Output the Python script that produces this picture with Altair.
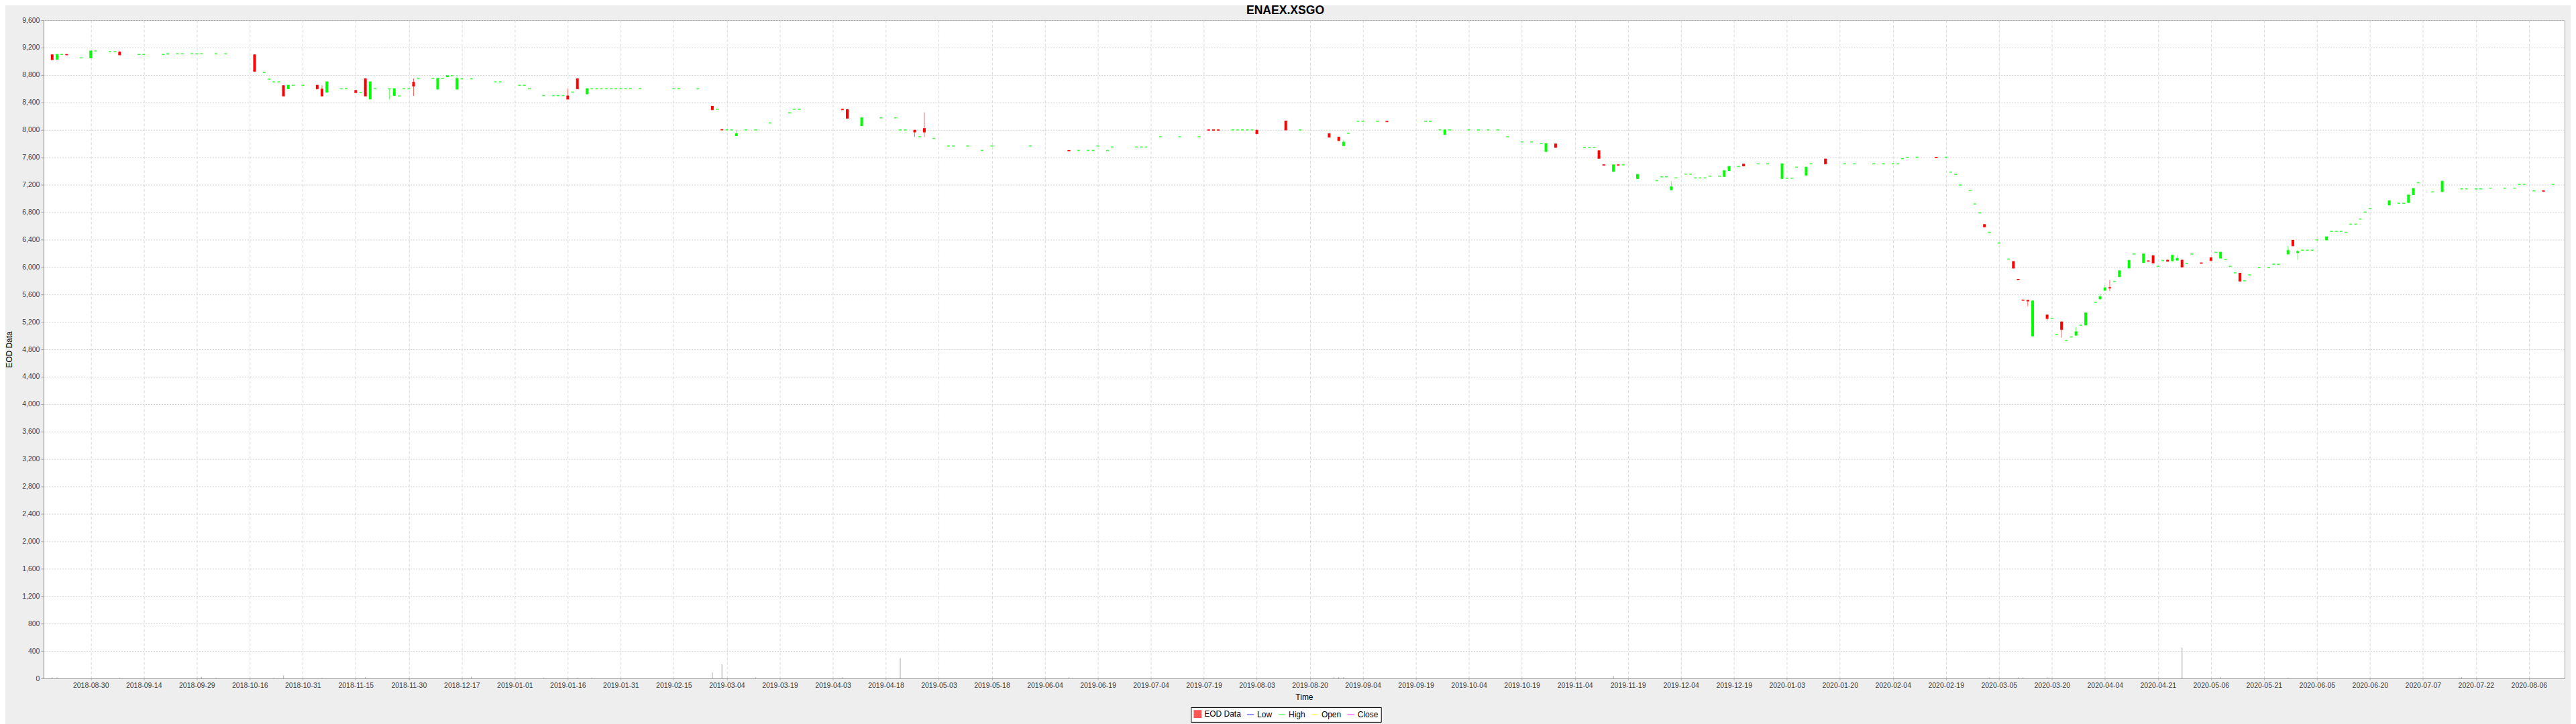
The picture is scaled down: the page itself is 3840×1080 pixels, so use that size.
import json
import numpy as np
import pandas as pd
import altair as alt

TITLE = "ENAEX.XSGO"
START = "2018-08-30"          # first labelled tick
TICK_STEP = 11                # business days between labelled ticks

tick_labels = [
    "2018-08-30", "2018-09-14", "2018-09-29", "2018-10-16", "2018-10-31", "2018-11-15",
    "2018-11-30", "2018-12-17", "2019-01-01", "2019-01-16", "2019-01-31", "2019-02-15",
    "2019-03-04", "2019-03-19", "2019-04-03", "2019-04-18", "2019-05-03", "2019-05-18",
    "2019-06-04", "2019-06-19", "2019-07-04", "2019-07-19", "2019-08-03", "2019-08-20",
    "2019-09-04", "2019-09-19", "2019-10-04", "2019-10-19", "2019-11-04", "2019-11-19",
    "2019-12-04", "2019-12-19", "2020-01-03", "2020-01-20", "2020-02-04", "2020-02-19",
    "2020-03-05", "2020-03-20", "2020-04-04", "2020-04-21", "2020-05-06", "2020-05-21",
    "2020-06-05", "2020-06-20", "2020-07-07", "2020-07-22", "2020-08-06",
]

# ---- days where open != close (candles) ----
candle_dates = [
    "2018-08-20", "2018-08-21", "2018-08-23", "2018-08-30", "2018-09-07", "2018-09-21",
    "2018-10-17", "2018-10-25", "2018-10-26", "2018-11-05", "2018-11-06", "2018-11-07",
    "2018-11-15", "2018-11-19", "2018-11-20", "2018-11-26", "2018-11-27", "2018-12-03",
    "2018-12-10", "2018-12-12", "2018-12-14", "2019-01-16", "2019-01-18", "2019-01-22",
    "2019-02-27", "2019-03-01", "2019-03-06", "2019-04-05", "2019-04-08", "2019-04-11",
    "2019-04-26", "2019-04-30", "2019-06-11", "2019-07-22", "2019-07-23", "2019-07-24",
    "2019-08-05", "2019-08-13", "2019-08-26", "2019-08-28", "2019-08-29", "2019-09-11",
    "2019-09-27", "2019-10-28", "2019-10-30", "2019-11-12", "2019-11-13", "2019-11-15",
    "2019-11-18", "2019-11-22", "2019-12-03", "2019-12-18", "2019-12-19", "2019-12-24",
    "2020-01-03", "2020-01-10", "2020-01-16", "2020-02-18", "2020-03-03", "2020-03-11",
    "2020-03-12", "2020-03-13", "2020-03-16", "2020-03-17", "2020-03-20", "2020-03-25",
    "2020-03-30", "2020-04-01", "2020-04-06", "2020-04-07", "2020-04-08", "2020-04-10",
    "2020-04-14", "2020-04-17", "2020-04-20", "2020-04-21", "2020-04-24", "2020-04-27",
    "2020-04-28", "2020-04-29", "2020-05-05", "2020-05-07", "2020-05-11", "2020-05-15",
    "2020-05-29", "2020-06-01", "2020-06-02", "2020-06-10", "2020-06-29", "2020-07-03",
    "2020-07-06", "2020-07-14", "2020-08-12",
]
candle_open = [
    9100, 9025, 9105, 9045, 9140, 9100,
    9100, 8650, 8595, 8655, 8600, 8545,
    8580, 8750, 8445, 8600, 8495, 8700,
    8590, 8770, 8590, 8500, 8750, 8520,
    8350, 8010, 7910, 8305, 8300, 8055,
    8000, 8025, 7705, 8005, 8005, 8005,
    8000, 8135, 7950, 7900, 7765, 8130,
    7930, 7680, 7800, 7700, 7495, 7390,
    7495, 7285, 7120, 7315, 7400, 7505,
    7285, 7335, 7580, 7605, 6625, 6085,
    5825, 5525, 5520, 4990, 5305, 5205,
    5000, 5150, 5530, 5655, 5705, 5855,
    5980, 6060, 6095, 6170, 6105, 6085,
    6095, 6105, 6065, 6140, 6125, 5915,
    6185, 6395, 6205, 6390, 6900, 6935,
    7050, 7095, 7115,
]
candle_high = [
    9100, 9100, 9105, 9150, 9150, 9110,
    9100, 8650, 8650, 8655, 8650, 8700,
    8580, 8750, 8700, 8600, 8600, 8750,
    8750, 8790, 8800, 8600, 8750, 8600,
    8350, 8010, 8000, 8305, 8300, 8175,
    8000, 8255, 7705, 8005, 8005, 8005,
    8000, 8135, 7950, 7900, 7855, 8130,
    8000, 7800, 7800, 7700, 7495, 7490,
    7495, 7350, 7250, 7405, 7465, 7505,
    7505, 7455, 7580, 7605, 6625, 6085,
    5825, 5525, 5520, 5505, 5310, 5205,
    5125, 5330, 5605, 5735, 5810, 5945,
    6095, 6190, 6095, 6170, 6105, 6170,
    6170, 6105, 6065, 6140, 6215, 5915,
    6305, 6395, 6245, 6440, 6965, 7050,
    7145, 7250, 7115,
]
candle_low = [
    9025, 9025, 9095, 9045, 9095, 9100,
    8855, 8495, 8595, 8600, 8495, 8545,
    8545, 8495, 8445, 8445, 8495, 8495,
    8590, 8770, 8590, 8450, 8600, 8520,
    8295, 8000, 7910, 8295, 8170, 8055,
    7895, 7895, 7695, 7995, 7995, 7995,
    7945, 8000, 7895, 7845, 7765, 8120,
    7930, 7680, 7745, 7585, 7485, 7390,
    7485, 7285, 7120, 7315, 7400, 7475,
    7285, 7335, 7505, 7595, 6585, 5985,
    5815, 5515, 5425, 4990, 5220, 4970,
    5000, 5150, 5530, 5655, 5650, 5855,
    5980, 6060, 6085, 6060, 6085, 6085,
    6095, 6000, 6055, 6095, 6125, 5795,
    6185, 6310, 6105, 6390, 6900, 6935,
    7050, 7095, 7105,
]
candle_close = [
    9025, 9100, 9095, 9150, 9095, 9110,
    8855, 8495, 8650, 8600, 8495, 8700,
    8545, 8495, 8700, 8600, 8600, 8640,
    8750, 8790, 8750, 8450, 8600, 8600,
    8295, 8000, 7945, 8295, 8170, 8175,
    7970, 7970, 7695, 7995, 7995, 7995,
    7945, 8000, 7895, 7845, 7820, 8120,
    8000, 7800, 7745, 7585, 7485, 7490,
    7485, 7350, 7170, 7405, 7465, 7475,
    7505, 7455, 7505, 7595, 6585, 5985,
    5815, 5515, 5505, 5505, 5250, 5090,
    5055, 5330, 5565, 5695, 5695, 5945,
    6095, 6190, 6085, 6060, 6085, 6170,
    6125, 6000, 6055, 6095, 6215, 5795,
    6240, 6310, 6225, 6440, 6965, 7050,
    7145, 7250, 7105,
]

# ---- days where the price did not move (open = high = low = close) ----
flat_dates = [
    "2018-08-22", "2018-08-28", "2018-08-31", "2018-09-05", "2018-09-06", "2018-09-13",
    "2018-09-14", "2018-09-20", "2018-09-25", "2018-09-26", "2018-09-28", "2018-10-01",
    "2018-10-02", "2018-10-05", "2018-10-09", "2018-10-19", "2018-10-22", "2018-10-23",
    "2018-10-24", "2018-10-29", "2018-10-31", "2018-11-12", "2018-11-13", "2018-11-16",
    "2018-11-21", "2018-11-28", "2018-11-29", "2018-11-30", "2018-12-04", "2018-12-07",
    "2018-12-11", "2018-12-13", "2018-12-17", "2018-12-19", "2018-12-26", "2018-12-27",
    "2019-01-02", "2019-01-03", "2019-01-04", "2019-01-09", "2019-01-11", "2019-01-14",
    "2019-01-15", "2019-01-17", "2019-01-23", "2019-01-24", "2019-01-25", "2019-01-28",
    "2019-01-29", "2019-01-30", "2019-01-31", "2019-02-01", "2019-02-04", "2019-02-06",
    "2019-02-15", "2019-02-18", "2019-02-22", "2019-02-28", "2019-03-04", "2019-03-05",
    "2019-03-08", "2019-03-12", "2019-03-15", "2019-03-21", "2019-03-22", "2019-03-25",
    "2019-04-17", "2019-04-22", "2019-04-23", "2019-04-24", "2019-04-29", "2019-05-02",
    "2019-05-07", "2019-05-08", "2019-05-13", "2019-05-16", "2019-05-20", "2019-05-30",
    "2019-06-13", "2019-06-17", "2019-06-18", "2019-06-19", "2019-06-21", "2019-06-24",
    "2019-07-01", "2019-07-02", "2019-07-03", "2019-07-08", "2019-07-12", "2019-07-18",
    "2019-07-29", "2019-07-30", "2019-07-31", "2019-08-01", "2019-08-02", "2019-08-16",
    "2019-08-30", "2019-09-03", "2019-09-04", "2019-09-09", "2019-09-23", "2019-09-24",
    "2019-09-26", "2019-09-30", "2019-10-04", "2019-10-08", "2019-10-10", "2019-10-14",
    "2019-10-16", "2019-10-21", "2019-10-23", "2019-10-25", "2019-11-07", "2019-11-08",
    "2019-11-11", "2019-11-19", "2019-11-28", "2019-11-29", "2019-12-02", "2019-12-04",
    "2019-12-06", "2019-12-09", "2019-12-10", "2019-12-11", "2019-12-12", "2019-12-13",
    "2019-12-17", "2019-12-23", "2019-12-27", "2019-12-31", "2020-01-06", "2020-01-07",
    "2020-01-08", "2020-01-13", "2020-01-22", "2020-01-24", "2020-01-30", "2020-02-03",
    "2020-02-05", "2020-02-06", "2020-02-07", "2020-02-10", "2020-02-12", "2020-02-20",
    "2020-02-21", "2020-02-24", "2020-02-25", "2020-02-27", "2020-02-28", "2020-03-02",
    "2020-03-04", "2020-03-06", "2020-03-10", "2020-03-23", "2020-03-24", "2020-03-26",
    "2020-03-27", "2020-03-31", "2020-04-03", "2020-04-09", "2020-04-15", "2020-04-22",
    "2020-04-23", "2020-04-30", "2020-05-01", "2020-05-08", "2020-05-12", "2020-05-13",
    "2020-05-14", "2020-05-18", "2020-05-19", "2020-05-21", "2020-05-25", "2020-05-26",
    "2020-05-27", "2020-06-03", "2020-06-04", "2020-06-05", "2020-06-08", "2020-06-11",
    "2020-06-12", "2020-06-15", "2020-06-16", "2020-06-17", "2020-06-18", "2020-06-19",
    "2020-06-22", "2020-06-23", "2020-07-01", "2020-07-02", "2020-07-07", "2020-07-10",
    "2020-07-20", "2020-07-21", "2020-07-23", "2020-07-24", "2020-07-28", "2020-07-31",
    "2020-08-04", "2020-08-05", "2020-08-06", "2020-08-10", "2020-08-14",
]
flat_price = [
    9100, 9050, 9150, 9140, 9140, 9100,
    9100, 9100, 9110, 9110, 9110, 9110,
    9110, 9110, 9110, 8835, 8740, 8700,
    8700, 8650, 8650, 8600, 8600, 8545,
    8600, 8495, 8600, 8600, 8750, 8750,
    8750, 8790, 8745, 8745, 8700, 8700,
    8650, 8650, 8600, 8500, 8500, 8500,
    8500, 8550, 8600, 8600, 8600, 8600,
    8600, 8600, 8600, 8600, 8600, 8600,
    8600, 8600, 8600, 8300, 8000, 8000,
    8000, 8000, 8100, 8250, 8300, 8300,
    8175, 8175, 8000, 8000, 7900, 7875,
    7765, 7765, 7765, 7700, 7765, 7765,
    7700, 7700, 7700, 7765, 7700, 7750,
    7750, 7750, 7750, 7900, 7900, 7900,
    8000, 8000, 8000, 8000, 8000, 8000,
    7950, 8125, 8125, 8125, 8125, 8125,
    8000, 8000, 8000, 8000, 8000, 8000,
    7900, 7825, 7825, 7800, 7745, 7745,
    7745, 7490, 7260, 7315, 7315, 7300,
    7355, 7355, 7300, 7300, 7300, 7325,
    7325, 7465, 7505, 7505, 7295, 7295,
    7455, 7505, 7505, 7505, 7505, 7505,
    7505, 7505, 7580, 7600, 7600, 7600,
    7385, 7350, 7195, 7115, 6920, 6790,
    6505, 6350, 6115, 5250, 5015, 4930,
    4980, 5150, 5485, 5790, 6190, 6010,
    6095, 6050, 6190, 6215, 6110, 6010,
    5915, 5800, 5885, 5990, 5990, 6040,
    6040, 6245, 6245, 6245, 6395, 6520,
    6520, 6520, 6505, 6625, 6625, 6700,
    6800, 6855, 6930, 6930, 7230, 7095,
    7140, 7140, 7140, 7140, 7150, 7150,
    7150, 7205, 7205, 7110, 7205,
]

# ---- traded volume (drawn against the same axis, as in the source) ----
volume_dates = [
    "2018-08-20", "2018-08-21", "2018-09-07", "2018-10-02", "2018-10-05", "2018-10-23",
    "2018-10-25", "2018-11-06", "2018-11-19", "2018-11-30", "2018-12-19", "2019-01-09",
    "2019-01-18", "2019-01-23", "2019-02-27", "2019-03-01", "2019-03-12", "2019-04-05",
    "2019-04-23", "2019-06-11", "2019-08-27", "2019-08-28", "2019-08-29", "2019-11-15",
    "2020-03-04", "2020-03-12", "2020-03-13", "2020-03-20", "2020-04-29", "2020-05-11",
    "2020-05-29", "2020-07-20",
]
volume_values = [
    13, 13, 8, 23, 8, 8,
    46, 8, 20, 8, 26, 8,
    8, 8, 88, 205, 16, 16,
    296, 17, 20, 20, 20, 36,
    13, 16, 16, 16, 451, 20,
    8, 20,
]

legend_items = ["EOD Data", "Low", "High", "Open", "Close"]
legend_colors = ["#FF5555", "#5555FF", "#55FF55", "#FFFF55", "#FF55FF"]
legend_fills = ["#FF5555", "transparent", "transparent", "transparent", "transparent"]
legend_shapes = ["square", "stroke", "stroke", "stroke", "stroke"]

# ------------------------------------------------------------------
def bday(dates):
    return np.busday_count(START, np.array(dates, dtype="datetime64[D]"))

candles = pd.DataFrame({
    "date": candle_dates, "open": candle_open, "high": candle_high,
    "low": candle_low, "close": candle_close,
})
flats = pd.DataFrame({
    "date": flat_dates, "open": flat_price, "high": flat_price,
    "low": flat_price, "close": flat_price,
})
ohlc = pd.concat([candles, flats], ignore_index=True)
ohlc["day"] = bday(ohlc["date"])
ohlc["dir"] = np.where(ohlc["close"] < ohlc["open"], "down", "up")

vol = pd.DataFrame({"date": volume_dates, "volume": volume_values})
vol["day"] = bday(vol["date"])

# invisible anchor rows that only feed the legend
leg = pd.DataFrame({"item": legend_items, "day": [0] * 5, "v": [5000] * 5})

FONT = "Liberation Sans"
W, H = 3766, 984
tick_values = [TICK_STEP * i for i in range(len(tick_labels))]
label_expr = json.dumps(tick_labels) + "[round(datum.value / %d)]" % TICK_STEP

xscale = alt.Scale(domain=[-9.1, 512.7], nice=False, zero=False)
yscale = alt.Scale(domain=[0, 9600], nice=False, zero=False)
dir_color = alt.Color("dir:N", scale=alt.Scale(domain=["up", "down"], range=["#00FF00", "#FF0000"]), legend=None)

x_axis = alt.Axis(
    values=tick_values, labelExpr=label_expr, title="Time",
    grid=True, gridColor="#DADADA", gridDash=[4, 3], gridWidth=1,
    tickSize=2, labelPadding=4, labelFontSize=10.5, labelColor="#404040",
    titleFontSize=12, titleFontWeight="normal", titleColor="#000000", titlePadding=6,
    domainColor="#A0A0A0", tickColor="#A0A0A0", labelFont=FONT, titleFont=FONT,
    labelOverlap=False,
)
y_axis = alt.Axis(
    values=list(range(0, 9601, 200)), format=",d", title="EOD Data",
    grid=True, gridColor="#D0D0D0", gridDash=[2, 2], gridWidth=1,
    tickSize=4, labelPadding=2, labelFontSize=10.5, labelColor="#404040",
    titleFontSize=12, titleFontWeight="normal", titleColor="#000000", titlePadding=12,
    domainColor="#A0A0A0", tickColor="#A0A0A0", labelFont=FONT, titleFont=FONT,
    labelOverlap=False,
)

base = alt.Chart(ohlc)

volume_layer = alt.Chart(vol).mark_rule(color="#BDBDBD", strokeWidth=1.3).encode(
    x=alt.X("day:Q", scale=xscale, axis=x_axis),
    y=alt.Y("volume:Q", scale=yscale, axis=y_axis),
    y2=alt.datum(0),
)

wicks = base.mark_rule(strokeWidth=1, opacity=0.6).encode(
    x=alt.X("day:Q", scale=xscale),
    y=alt.Y("low:Q", scale=yscale),
    y2="high:Q",
    color=dir_color,
)

bodies = base.mark_bar(size=4).encode(
    x=alt.X("day:Q", scale=xscale),
    y=alt.Y("open:Q", scale=yscale),
    y2="close:Q",
    color=dir_color,
)

dashes = base.mark_tick(orient="horizontal", size=4, thickness=1.6, opacity=0.75).encode(
    x=alt.X("day:Q", scale=xscale),
    y=alt.Y("close:Q", scale=yscale),
    color=dir_color,
)

legend_def = alt.Legend(
    title=None, orient="none", legendX=1714, legendY=1027, direction="horizontal",
    strokeColor="#000000", fillColor="#FFFFFF", padding=4, labelFont=FONT,
    labelFontSize=12, labelColor="#000000", symbolSize=110, symbolStrokeWidth=1.2,
    symbolOpacity=1, columnPadding=6, labelOffset=4,
)

legend_layer = alt.Chart(leg).mark_point(filled=True, opacity=0, strokeWidth=1.2).encode(
    x=alt.X("day:Q", scale=xscale),
    y=alt.Y("v:Q", scale=yscale),
    stroke=alt.Stroke("item:N", scale=alt.Scale(domain=legend_items, range=legend_colors),
                      legend=legend_def),
    fill=alt.Fill("item:N", scale=alt.Scale(domain=legend_items, range=legend_fills),
                  legend=legend_def),
    shape=alt.Shape("item:N", scale=alt.Scale(domain=legend_items, range=legend_shapes),
                    legend=legend_def),
)

chart = alt.layer(volume_layer, wicks, bodies, dashes, legend_layer).resolve_scale(
    color="independent", shape="independent", fill="independent", stroke="independent"
).properties(
    width=W, height=H,
    title=alt.TitleParams(TITLE, fontSize=17.6, fontWeight="bold", font=FONT, color="#000000",
                          anchor="middle", dx=-28, offset=0, frame="group"),
    autosize=alt.AutoSizeParams(type="none"),
    padding={"left": 57, "top": 21, "right": 9, "bottom": 67},
).configure(
    background="#EEEEEE",
).configure_view(
    fill="#FFFFFF", stroke="#A0A0A0", strokeWidth=1,
)

chart.save("out.html", embed_options={"renderer": "svg", "actions": False})
